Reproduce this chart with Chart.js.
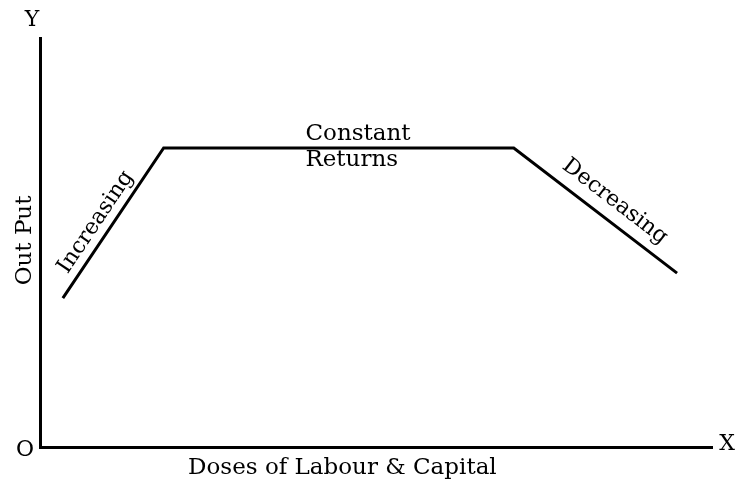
<!DOCTYPE html>
<html>
<head>
<meta charset="utf-8">
<script src="https://cdn.jsdelivr.net/npm/chart.js@4"></script>
<style>
  html, body { margin: 0; padding: 0; background: #fff; }
  #wrap { width: 735px; height: 481px; }
</style>
</head>
<body>
<div id="wrap"><canvas id="returnsChart" width="735" height="481"></canvas></div>
<script>
// stages of the returns curve (doses on x, output on y, both 0-100)
const doses = [3.4, 18.4, 70.5, 94.8];
const output = [36.4, 73.1, 73.1, 42.5];
const stageLabels = ['Increasing', 'Constant', 'Returns', 'Decreasing'];
const axisLabels = ['Out Put', 'Doses of Labour & Capital'];
const cornerLabels = ['Y', 'X', 'O'];

const points = doses.map((d, i) => ({ x: d, y: output[i] }));

const serif = '"DejaVu Serif", "Liberation Serif", serif';

const labelPlugin = {
  id: 'labels',
  afterDraw(chart) {
    const ctx = chart.ctx;
    const xs = chart.scales.x;
    const ys = chart.scales.y;
    const area = chart.chartArea;
    ctx.save();
    ctx.fillStyle = '#000';
    ctx.textAlign = 'center';
    ctx.textBaseline = 'middle';

    // corner letters
    ctx.font = '22px ' + serif;
    ctx.fillText(cornerLabels[0], area.left - 8, area.top - 18);
    ctx.fillText(cornerLabels[1], area.right + 15, area.bottom - 3);
    ctx.fillText(cornerLabels[2], area.left - 15, area.bottom + 3);

    // axis titles
    ctx.font = '23px ' + serif;
    ctx.fillText(axisLabels[1], xs.getPixelForValue(45), area.bottom + 21);
    ctx.save();
    ctx.translate(area.left - 15, ys.getPixelForValue(50.5));
    ctx.rotate(-Math.PI / 2);
    ctx.fillText(axisLabels[0], 0, 0);
    ctx.restore();

    // along a segment, offset to the upper side
    const segLabel = (text, i, off, along) => {
      const x1 = xs.getPixelForValue(doses[i]), y1 = ys.getPixelForValue(output[i]);
      const x2 = xs.getPixelForValue(doses[i + 1]), y2 = ys.getPixelForValue(output[i + 1]);
      const ang = Math.atan2(y2 - y1, x2 - x1);
      const cx = (x1 + x2) / 2 + Math.sin(ang) * off + Math.cos(ang) * along;
      const cy = (y1 + y2) / 2 - Math.cos(ang) * off + Math.sin(ang) * along;
      ctx.save();
      ctx.translate(cx, cy);
      ctx.rotate(ang);
      ctx.fillText(text, 0, 0);
      ctx.restore();
    };
    ctx.font = '22px ' + serif;
    segLabel(stageLabels[0], 0, 15, -9);
    segLabel(stageLabels[3], 2, 19, 10);

    // constant returns, left aligned around the flat part
    ctx.font = '23px ' + serif;
    ctx.textAlign = 'left';
    ctx.textBaseline = 'alphabetic';
    const fx = xs.getPixelForValue(39.5);
    const fy = ys.getPixelForValue(output[1]);
    ctx.fillText(stageLabels[1], fx, fy - 8);
    ctx.fillText(stageLabels[2], fx, fy + 18);
    ctx.restore();
  }
};

new Chart(document.getElementById('returnsChart'), {
  type: 'line',
  data: {
    datasets: [{
      data: points,
      borderColor: '#000',
      borderWidth: 3,
      pointRadius: 0,
      tension: 0,
      fill: false
    }]
  },
  options: {
    responsive: false,
    animation: false,
    layout: { padding: { left: 32, right: 23, top: 38, bottom: 26 } },
    scales: {
      x: {
        type: 'linear',
        min: 0,
        max: 100,
        grid: { display: false },
        ticks: { display: false },
        border: { display: true, color: '#000', width: 3 }
      },
      y: {
        min: 0,
        max: 100,
        grid: { display: false },
        ticks: { display: false },
        border: { display: true, color: '#000', width: 3 }
      }
    },
    plugins: {
      legend: { display: false },
      tooltip: { enabled: false }
    }
  },
  plugins: [labelPlugin]
});
</script>
</body>
</html>
